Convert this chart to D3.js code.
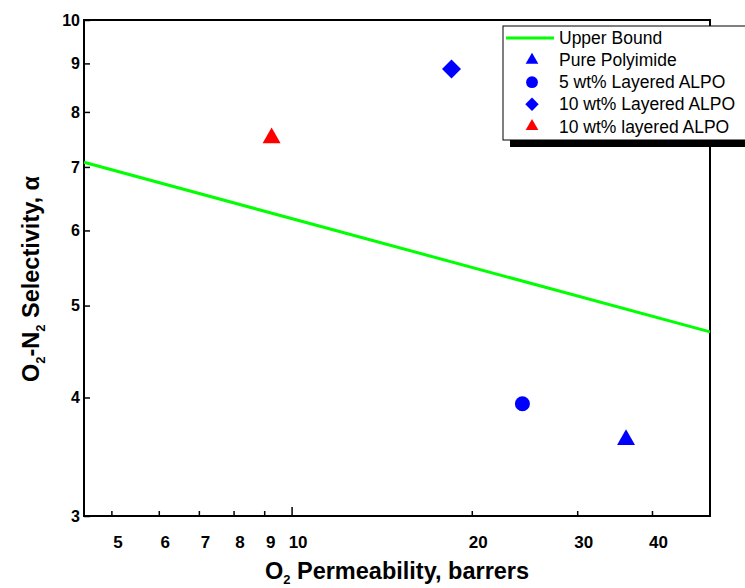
<!DOCTYPE html>
<html>
<head>
<meta charset="utf-8">
<script src="https://cdn.jsdelivr.net/npm/d3@7"></script>
<style>
  body { margin: 0; background: #fff; }
  svg text { font-family: "Liberation Sans", Arial, sans-serif; }
</style>
</head>
<body>
<div id="chart"></div>
<script>
// values
const xTicks = [5, 6, 7, 8, 9, 10, 20, 30, 40];
const yTicks = [3, 4, 5, 6, 7, 8, 9, 10];
const upperBound = [[4.5, 7.08], [50, 4.69]];
const series = [
  { name: 'Pure Polyimide', shape: 'triangle', color: '#0000ff', pts: [[36.2, 3.61]] },
  { name: '5 wt% Layered ALPO', shape: 'circle', color: '#0000ff', pts: [[24.3, 3.94]] },
  { name: '10 wt% Layered ALPO', shape: 'diamond', color: '#0000ff', pts: [[18.5, 8.88]] },
  { name: '10 wt% layered ALPO', shape: 'triangle', color: '#ff0000', pts: [[9.26, 7.51]] },
];

const width = 745, height = 588;
const margin = { top: 20, right: 35, bottom: 72, left: 84 };

const svg = d3.select('#chart').append('svg')
  .attr('width', width)
  .attr('height', height);

const x = d3.scaleLog().domain([4.5, 50]).range([margin.left, width - margin.right]);
const y = d3.scaleLog().domain([3, 10]).range([height - margin.bottom, margin.top]);

function symbolPath(shape, big) {
  if (shape === 'triangle') return d3.symbol(d3.symbolTriangle, big ? 140 : 70)();
  if (shape === 'circle') return d3.symbol(d3.symbolCircle, big ? 177 : 110)();
  return d3.symbol(d3.symbolSquare, big ? 180 : 90)();
}

// frame
svg.append('rect')
  .attr('x', margin.left).attr('y', margin.top)
  .attr('width', x.range()[1] - margin.left)
  .attr('height', y.range()[0] - margin.top)
  .attr('fill', 'none').attr('stroke', '#000').attr('stroke-width', 2);

// axes
const yAxis = svg.append('g')
  .attr('transform', `translate(${margin.left},0)`)
  .call(d3.axisLeft(y).tickValues(yTicks).tickFormat(d3.format('d')).tickSize(-6).tickPadding(4));
yAxis.select('.domain').remove();
yAxis.selectAll('text').style('font-size', '16px').style('font-weight', 'bold');
yAxis.selectAll('line').attr('stroke-width', 1.5);

const xAxis = svg.append('g')
  .attr('transform', `translate(0,${y.range()[0]})`)
  .call(d3.axisBottom(x).tickValues(xTicks).tickFormat(d3.format('d')).tickSize(-5).tickPadding(20));
xAxis.select('.domain').remove();
xAxis.selectAll('text')
  .attr('dx', 6)
  .style('font-size', '17px').style('font-weight', 'bold')
  .style('font-family', '"Liberation Sans Narrow", "Arial Narrow", "Liberation Sans", sans-serif');
xAxis.selectAll('line').attr('stroke-width', 1.5)
  .filter(d => d === 10).attr('y2', -9);

// upper bound
svg.append('path')
  .datum(upperBound)
  .attr('d', d3.line().x(d => x(d[0])).y(d => y(d[1])))
  .attr('fill', 'none')
  .attr('stroke', '#00ff00')
  .attr('stroke-width', 3);

// points
series.forEach(s => {
  svg.selectAll(null)
    .data(s.pts)
    .enter().append('path')
    .attr('d', symbolPath(s.shape, true))
    .attr('transform', d => `translate(${x(d[0])},${y(d[1])})` + (s.shape === 'diamond' ? ' rotate(45)' : ''))
    .attr('fill', s.color);
});

// axis titles
const xt = svg.append('text')
  .attr('x', 397).attr('y', 579)
  .attr('text-anchor', 'middle')
  .style('font-size', '23.5px').style('font-weight', 'bold');
xt.append('tspan').text('O');
xt.append('tspan').attr('dy', 5).style('font-size', '13px').text('2');
xt.append('tspan').attr('dy', -5).text(' Permeability, barrers');

const yt = svg.append('text')
  .attr('transform', 'translate(39,279) rotate(-90)')
  .attr('text-anchor', 'middle')
  .style('font-size', '23.5px').style('font-weight', 'bold');
yt.append('tspan').text('O');
yt.append('tspan').attr('dy', 6).style('font-size', '13px').text('2');
yt.append('tspan').attr('dy', -6).text('-N');
yt.append('tspan').attr('dy', 6).style('font-size', '13px').text('2');
yt.append('tspan').attr('dy', -6).text(' Selectivity, α');

// legend
const lg = svg.append('g').attr('transform', 'translate(503,26)');
lg.append('rect').attr('x', 7).attr('y', 7).attr('width', 250).attr('height', 114).attr('fill', '#000');
lg.append('rect').attr('x', 0).attr('y', 0).attr('width', 250).attr('height', 114)
  .attr('fill', '#fff').attr('stroke', '#000').attr('stroke-width', 1);

const rowY = i => 12 + i * 22.1;
lg.append('line').attr('x1', 3).attr('x2', 51).attr('y1', rowY(0)).attr('y2', rowY(0))
  .attr('stroke', '#00ff00').attr('stroke-width', 3);
lg.append('text').attr('x', 56).attr('y', rowY(0)).attr('dy', '0.35em')
  .style('font-size', '17.5px').text('Upper Bound');

series.forEach((s, i) => {
  const yy = rowY(i + 1);
  lg.append('path')
    .attr('d', symbolPath(s.shape, false))
    .attr('transform', `translate(29,${yy})` + (s.shape === 'diamond' ? ' rotate(45)' : ''))
    .attr('fill', s.color);
  lg.append('text').attr('x', 56).attr('y', yy).attr('dy', '0.35em')
    .style('font-size', '17.5px').text(s.name);
});
</script>
</body>
</html>
